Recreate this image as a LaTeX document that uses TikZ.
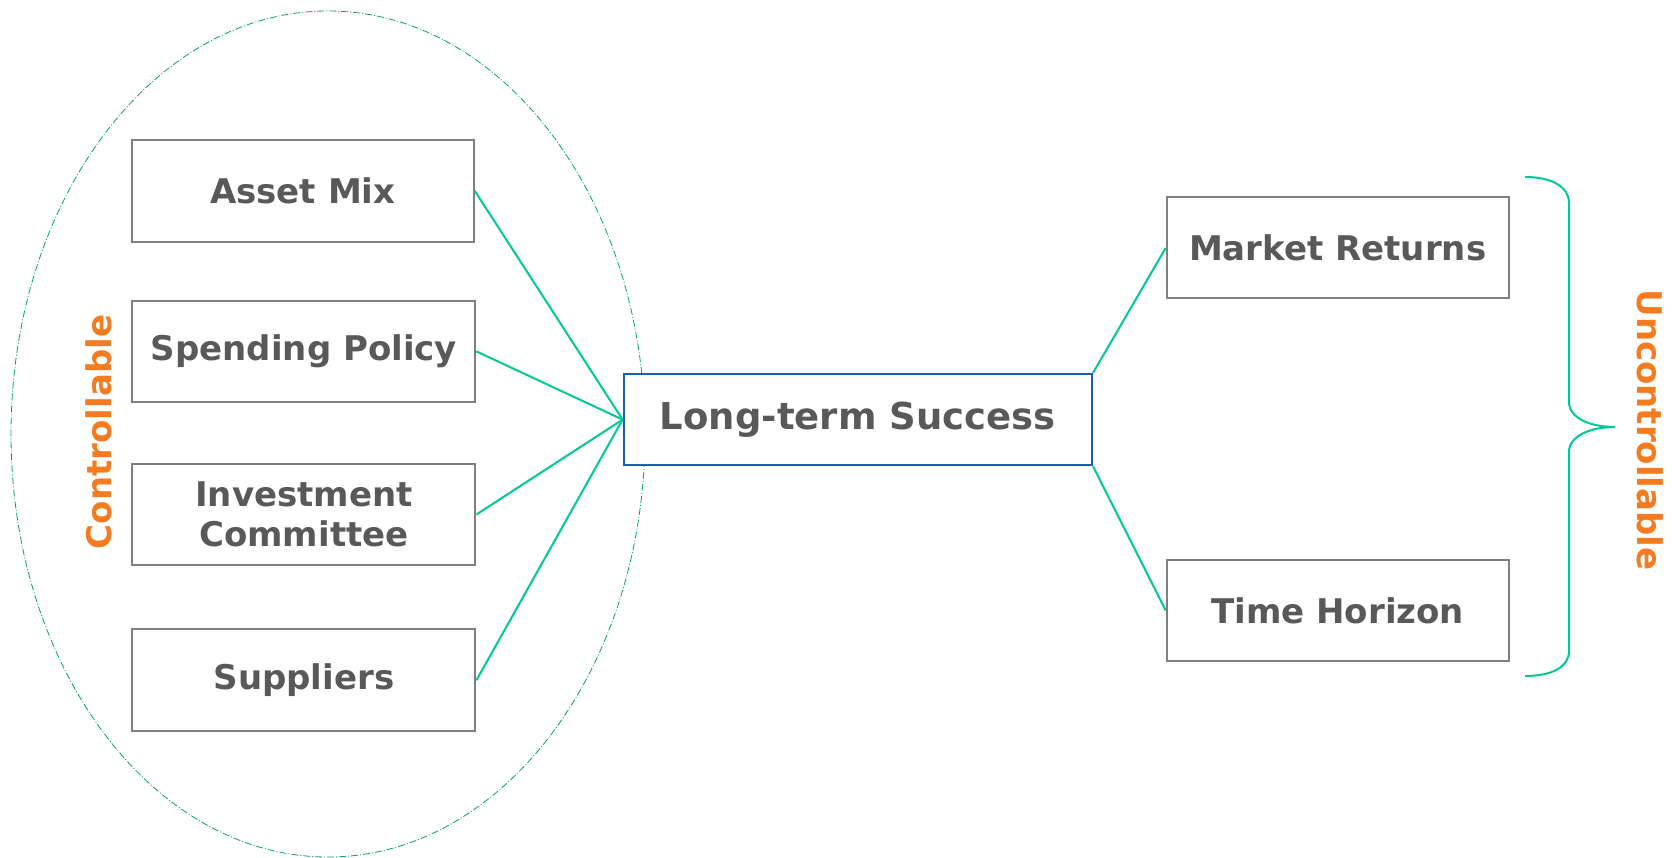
\documentclass[tikz,border=0pt]{standalone}
\usepackage{fontspec}
\setmainfont{DejaVu Sans}
\usetikzlibrary{shapes.geometric}
\definecolor{txtgray}{HTML}{595959}
\definecolor{boxgray}{HTML}{808080}
\definecolor{ltsblue}{HTML}{1F5EAE}
\definecolor{teal}{HTML}{00C896}
\definecolor{tagorange}{HTML}{F47B20}
\begin{document}
\begin{tikzpicture}[x=1pt,y=-1pt,
  factor/.style={draw=boxgray, line width=2pt, fill=white,
    minimum width=342pt, minimum height=102pt, inner sep=0pt,
    font=\bfseries\fontsize{34}{40}\selectfont, text=txtgray, align=center},
  goal/.style={draw=ltsblue, line width=2.4pt, fill=white,
    minimum width=468pt, minimum height=91pt, inner sep=0pt,
    font=\bfseries\fontsize{37}{44}\selectfont, text=txtgray},
  link/.style={draw=teal, line width=2pt},
  ring/.style={draw=teal!80!black, line width=0.8pt,
    dash pattern=on 7pt off 2pt on 1pt off 2pt},
  tag/.style={text=tagorange, font=\bfseries\fontsize{34}{40}\selectfont, inner sep=0pt}
]
\useasboundingbox (0,0) rectangle (1672,858);

% zone of controllable factors
\node[ring, ellipse, minimum width=634pt, minimum height=846pt, inner sep=0pt] (zone) at (328,434) {};

% factor boxes
\node[factor] (asset) at (302.8,190.9) {Asset Mix};
\node[factor, minimum width=343pt, minimum height=101pt] (spend) at (303.9,351.4) {Spending Policy};
\node[factor, minimum width=343pt, minimum height=101pt] (invest) at (303.9,514.5) {Investment\\Committee};
\node[factor, minimum width=343pt] (supply) at (303.9,680.3) {Suppliers};

\node[goal] (lts) at (857.8,419.6) {Long-term Success};

\node[factor, minimum height=101pt] (market) at (1337.7,248) {Market Returns};
\node[factor, minimum height=101pt] (horizon) at (1337.7,610.5) {Time Horizon};

% connectors
\draw[link] (asset.east) -- (lts.west);
\draw[link] (spend.east) -- (lts.west);
\draw[link] (invest.east) -- (lts.west);
\draw[link] (supply.east) -- (lts.west);
\draw[link] (lts.north east) -- (market.west);
\draw[link] (lts.south east) -- (horizon.west);

% brace grouping the uncontrollable factors
\draw[link] (1525,177) .. controls (1552,177) and (1569,187) .. (1569,203)
  -- (1569,402) .. controls (1569,418) and (1590,427) .. (1615,427)
  .. controls (1590,427) and (1569,436) .. (1569,452)
  -- (1569,651) .. controls (1569,667) and (1552,676) .. (1525,676);

% side labels
\node[tag, rotate=90, anchor=base] (ctrl) at (111,432) {Controllable};
\node[tag, rotate=-90, anchor=base] (unctrl) at (1637,430) {Uncontrollable};
\end{tikzpicture}
\end{document}
